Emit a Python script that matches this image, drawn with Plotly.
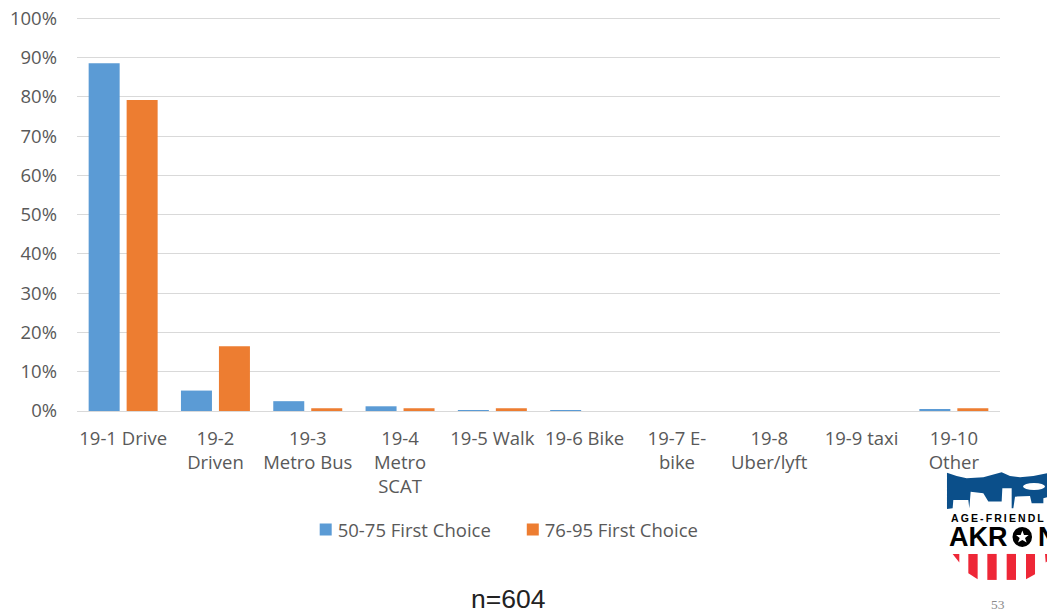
import plotly.graph_objects as go

categories = ["19-1 Drive", "19-2<br>Driven", "19-3<br>Metro Bus", "19-4<br>Metro<br>SCAT", "19-5 Walk",
              "19-6 Bike", "19-7 E-<br>bike", "19-8<br>Uber/lyft", "19-9 taxi", "19-10<br>Other"]
first_50_75 = [88.5, 5.2, 2.5, 1.2, 0.2, 0.2, 0, 0, 0, 0.5]
first_76_95 = [79.2, 16.5, 0.7, 0.7, 0.7, 0, 0, 0, 0, 0.7]
series_names = ["50-75 First Choice", "76-95 First Choice"]

W, H = 1047, 614
L, R, B = 77.4, 1000, 411
YMAX = 100.3
T = B - 3.93 * YMAX
FONT = "Open Sans"
FS = 18.5
GREY = "#595959"

def X(p): return (p - L) / (R - L)
def Y(p): return (B - p) / (B - T)

def zoom_path(pts):
    out = []
    for i, (zx, zy) in enumerate(pts):
        out.append(("M" if i == 0 else "L") + f"{X(900 + zx / 3):.5f},{Y(440 + zy / 3):.5f}")
    return " ".join(out) + " Z"

BLUE = "#0b4f8a"
RED = "#ee2737"
sky = [(141, 98), (170, 108), (200, 115), (250, 112), (305, 97), (330, 108), (360, 112), (400, 108), (441, 100),
       (441, 172), (430, 175), (430, 190), (395, 190), (390, 168), (345, 170), (340, 205), (335, 205), (335, 145),
       (307, 145), (305, 185), (265, 185), (250, 160), (212, 155), (208, 205), (205, 180), (160, 180), (158, 205), (141, 207)]
stripes = [[(158, 342), (178, 342), (178, 368)],
           [(205, 342), (233, 342), (233, 418), (205, 400)],
           [(262, 342), (290, 342), (290, 420), (262, 420)],
           [(320, 342), (348, 342), (348, 420), (320, 420)],
           [(378, 342), (405, 342), (405, 403), (378, 418)],
           [(435, 342), (441, 342), (441, 365), (437, 368)]]
star = [(367, 272), (372, 285), (386, 285), (375, 294), (380, 308), (367, 300), (354, 308), (359, 294), (348, 285), (362, 285)]

PAPER = dict(xref="paper", yref="paper")
shapes = [dict(type="path", path=zoom_path(sky), fillcolor=BLUE, line_width=0, **PAPER),
          dict(type="circle", x0=X(1023), x1=X(1045), y0=Y(490), y1=Y(483), fillcolor="white", line_width=0, **PAPER),
          dict(type="circle", x0=X(1012.5), x1=X(1032), y0=Y(547), y1=Y(527), fillcolor="black", line_width=0, **PAPER),
          dict(type="path", path=zoom_path(star), fillcolor="white", line_width=0, **PAPER)]
for s in stripes:
    shapes.append(dict(type="path", path=zoom_path(s), fillcolor=RED, line_width=0, **PAPER))

annotations = [
    dict(text="n=604", x=X(508), y=Y(599), showarrow=False, xanchor="center", yanchor="middle",
         font=dict(family="Liberation Sans", size=26.5, color="#222222"), **PAPER),
    dict(text="53", x=X(998), y=Y(605), showarrow=False, xanchor="center", yanchor="middle",
         font=dict(family="Liberation Serif", size=13.5, color="#8a8a8a"), **PAPER),
    dict(text="\u2009".join("AGE-FRIENDL"), x=X(949.5), y=Y(518.5), showarrow=False,
         xanchor="left", yanchor="middle", font=dict(family="Liberation Sans", size=10.5, color="black", weight=700), **PAPER),
    dict(text="AKR", x=X(947), y=Y(537), showarrow=False,
         xanchor="left", yanchor="middle", font=dict(family="Liberation Sans", size=27, color="black", weight=700), **PAPER),
    dict(text="N", x=X(1035.5), y=Y(537), showarrow=False,
         xanchor="left", yanchor="middle", font=dict(family="Liberation Sans", size=27, color="black", weight=700), **PAPER),
]

legend_common = dict(orientation="h", xanchor="left", yanchor="middle", y=Y(530),
                     font=dict(family=FONT, size=FS, color=GREY), itemwidth=30, bgcolor="rgba(0,0,0,0)")

fig = go.Figure()
fig.add_bar(x=categories, y=first_50_75, name=series_names[0], marker=dict(color="#5b9bd5", line_width=0),
            legend="legend", showlegend=True)
fig.add_bar(x=categories, y=first_76_95, name=series_names[1], marker=dict(color="#ed7d31", line_width=0),
            legend="legend2", showlegend=True)
fig.update_layout(
    width=W, height=H, autosize=False,
    showlegend=True,
    margin=dict(l=L, r=W - R, t=T, b=H - B, pad=0),
    plot_bgcolor="white", paper_bgcolor="white",
    barmode="group", bargap=0.177, bargroupgap=0.184,
    font=dict(family=FONT, size=FS, color=GREY),
    legend=dict(x=X(306), **legend_common),
    legend2=dict(x=X(513), **legend_common),
    shapes=shapes, annotations=annotations,
    xaxis=dict(type="category", showgrid=False, showline=True, linecolor="#d9d9d9", linewidth=1.3,
               ticks="", tickangle=0, ticklabelstandoff=11, tickfont=dict(family=FONT, size=FS, color=GREY), automargin=False),
    yaxis=dict(range=[0, YMAX], tick0=0, dtick=10, ticksuffix="%", showgrid=True, gridcolor="#d9d9d9", gridwidth=1.3,
               zeroline=False, showline=False, ticks="", ticklabelstandoff=19, tickfont=dict(family=FONT, size=FS, color=GREY),
               automargin=False),
)
fig.write_html(
    "out.html",
    config=dict(displayModeBar=False),
    post_script=(
        "document.body.style.margin='0';document.documentElement.style.overflow='hidden';"
        "function shiftLegendText(){document.querySelectorAll('.legendtext,.legend2text').forEach(function(t){"
        "var x=parseFloat(t.getAttribute('x'));if(x>35){t.setAttribute('x',x-8);}});}"
        "shiftLegendText();var n=0;var h=setInterval(function(){shiftLegendText();if(++n>60){clearInterval(h);}},25);"
    ),
)
